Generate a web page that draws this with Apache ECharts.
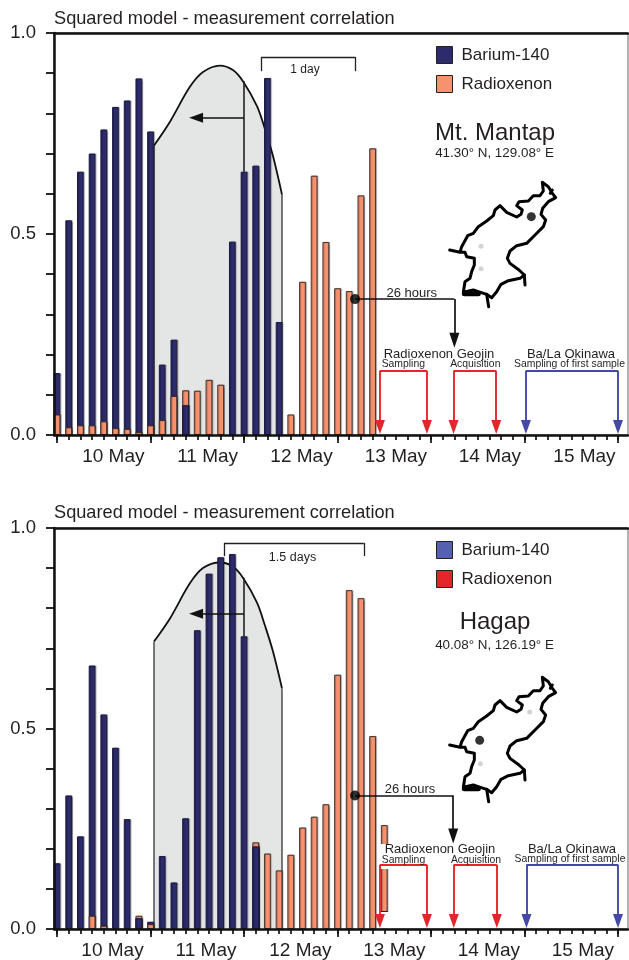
<!DOCTYPE html>
<html><head><meta charset="utf-8">
<style>html,body{margin:0;padding:0;background:#fff}#c{width:629px;height:960px}</style>
<script src="https://cdn.jsdelivr.net/npm/echarts@6/dist/echarts.min.js"></script>
</head><body><div id="c"></div>
<script>
// ---- data (x unit = 3-hour step from 10 May 00:00) ----
const dayLabels = ['10 May','11 May','12 May','13 May','14 May','15 May'];
const barium1 = [.154,.534,.655,.70,.76,.816,.832,.887,.755,.175,.237,.074,null,null,null,.481,.655,.67,.888,.281];
const xenon1  = [.051,.019,.024,.024,.034,.017,.015,.007,.024,.037,.097,.111,.11,.137,.125,null,null,null,null,null,.051,.381,.645,.48,.365,.358,.596,.713];
const barium2 = [.164,.333,.231,.657,.535,.452,.274,.027,.018,.182,.116,.276,.745,.886,.927,.935,.73,.206];
const xenon2  = [null,null,null,.033,.008,null,null,.033,.012,null,null,null,null,null,null,null,null,.216,.188,.146,.185,.253,.28,.311,.634,.845,.825,.481,.259];
const plumeX = [8.3,9.68,11.37,12.49,13.94,15.05,15.91,17.11,17.8,18.48,19.25];
const plumeY1 = [.72,.78,.866,.903,.919,.908,.88,.818,.76,.694,.598];
const plumeY2 = [.717,.775,.862,.9,.914,.904,.876,.814,.756,.692,.6];
const labelPos1 = [4.82,12.89,20.92,29.0,37.04,45.13];
const labelPos2 = [4.75,12.75,20.83,28.87,36.95,45.0];
const mapOutline = [[14,225],[45,232],[50,215],[68,182],[85,175],[100,155],[125,138],[145,122],[150,105],[165,92],[185,112],[215,126],[228,118],[232,105],[215,92],[222,80],[250,78],[265,62],[285,62],[295,48],[292,22],[310,35],[322,55],[332,68],[310,80],[293,100],[288,118],[302,135],[295,155],[270,180],[245,205],[215,212],[195,228],[187,250],[195,265],[222,285],[238,300],[225,310],[190,317],[168,328],[155,350],[140,368],[125,358],[100,350],[85,345],[55,352],[60,320],[75,310],[80,290],[88,270],[88,250],[65,245],[60,232],[45,232]];
const mapStubs = [[[238,300],[240,330]],[[125,358],[131,395]],[[58,356],[100,356]],[[322,45],[316,55]]];
const mapSite1 = [259,125], mapGray1 = [[108,214],[108,281]];
const mapSite2 = [104,211], mapGray2 = [[254,126],[106,281]];
const brackets1 = [17.45,25.55,.905,.94], brackets2 = [14.3,26.25,.93,.963];

const INK='#231f20', NAVY='#2d2b6a', ORANGE='#f7916e', RED='#e2262b', BLUE='#4549a6';
const FONT='"Liberation Sans",Arial,sans-serif';
const XMIN=-0.2567, XMAX=48.855;

const panels=[
 {top:33, site:'Mt. Mantap', coord:'41.30\u00b0 N, 129.08\u00b0 E', siteY:133, coordY:153, titleY:19, barium:barium1, xenon:xenon1, plume:plumeY1, labelPos:labelPos1,
  legend:['#2d2b6a','#f7916e'], legendTop:46, legendLeft:436, mapTop:175, mapSite:mapSite1, mapGray:mapGray1,
  bracket:brackets1, bracketText:['1 day',305,70,12], peakY:.88,
  arrowY:.789, dot:[25.5,.338], conX:34.0, conTip:.236, hoursText:[411.7,293],
  brackY:.16, tips:.02, redX:[27.63,31.65,33.93,37.58], blueX:[40.12,48.0],
  texts:[['Radioxenon Geojin',439,354.5,13],['Sampling',403.3,364.5,10.4],['Acquisition',475.3,364.5,10.4],['Ba/La Okinawa',571,354.5,13],['Sampling of first sample',569.5,364.5,10.4]]},
 {top:528, site:'Hagap', coord:'40.08\u00b0 N, 126.19\u00b0 E', siteY:622.5, coordY:645, titleY:513, barium:barium2, xenon:xenon2, plume:plumeY2, labelPos:labelPos2,
  legend:['#5560b0','#e2262b'], legendTop:541, legendLeft:436, mapTop:670, mapSite:mapSite2, mapGray:mapGray2,
  bracket:brackets2, bracketText:['1.5 days',292.5,558,12.5], peakY:.876,
  arrowY:.786, dot:[25.5,.333], conX:33.9, conTip:.232, hoursText:[410,789],
  brackY:.16, tips:.02, redX:[27.63,31.65,33.95,37.63], blueX:[40.17,48.0],
  texts:[['Radioxenon Geojin',440,849.5,13],['Sampling',403.5,860,10.4],['Acquisition',476,860,10.4],['Ba/La Okinawa',572,849.5,13],['Sampling of first sample',570,859.5,10.4]]}
];

const option={animation:false,textStyle:{fontFamily:FONT},grid:[],xAxis:[],yAxis:[],series:[],legend:[],graphic:{elements:[]}};
const gfx=option.graphic.elements;

function txt(s,x,y,size,align){
  gfx.push({type:'text',x,y,z:20,silent:true,style:{text:s,font:size+'px '+FONT,fill:INK,align:align||'center',verticalAlign:'middle'}});
}
function seg(x1,y1,x2,y2,color,width,arrow){
  return [{coord:[x1,y1],symbol:'none',lineStyle:{color,width,type:'solid',opacity:1}},
          {coord:[x2,y2],symbol:arrow?'triangle':'none',symbolSize:arrow||0}];
}

panels.forEach((p,k)=>{
  const g=k*2, xo=k*4, yo=k*2, mx=xo+3, my=yo+1;
  option.grid.push({left:54,top:p.top,width:574,height:402,show:true,backgroundColor:'#fff',borderColor:'#666',borderWidth:1});
  option.grid.push({left:445,top:p.mapTop,width:125,height:135,show:false});
  const hide={show:false};
  const ticks=[]; for(let i=0;i<=48;i++) ticks.push(i);
  const majors=[]; for(let i=0;i<=48;i+=8) majors.push(i);
  // minor ticks + bottom line
  option.xAxis.push({type:'value',gridIndex:g,min:XMIN,max:XMAX,position:'bottom',z:6,splitLine:hide,
    axisLine:{show:true,onZero:false,lineStyle:{color:'#111',width:2.5}},
    axisTick:{show:true,length:5,customValues:ticks,lineStyle:{color:'#111',width:1.7}},
    axisLabel:{show:false}});
  // major ticks + day labels
  option.xAxis.push({type:'value',gridIndex:g,min:XMIN,max:XMAX,position:'bottom',z:6,splitLine:hide,
    axisLine:{show:false},
    axisTick:{show:true,length:8,customValues:majors,lineStyle:{color:'#111',width:1.7}},
    axisLabel:{show:true,customValues:p.labelPos,margin:12,fontSize:19,fontFamily:FONT,color:INK,
      formatter:(v)=>dayLabels[p.labelPos.indexOf(v)]}});
  // top frame line
  option.xAxis.push({type:'value',gridIndex:g,min:XMIN,max:XMAX,position:'top',z:6,splitLine:hide,
    axisLine:{show:true,onZero:false,lineStyle:{color:'#111',width:2.5}},axisTick:hide,axisLabel:hide});
  // map x
  option.xAxis.push({type:'value',gridIndex:g+1,min:0,max:375,show:false});
  option.yAxis.push({type:'value',gridIndex:g,min:0,max:1,interval:.1,z:6,splitLine:hide,
    axisLine:{show:true,onZero:false,lineStyle:{color:'#111',width:2.5}},
    axisTick:{show:true,length:8,lineStyle:{color:'#111',width:1.8}},
    axisLabel:{show:true,customValues:[0,.5,1],margin:18,fontSize:18.5,fontFamily:FONT,color:INK,padding:[0,0,4,0],formatter:v=>v.toFixed(1)}});
  option.yAxis.push({type:'value',gridIndex:g+1,min:0,max:405,inverse:true,show:false});

  const ax={xAxisIndex:xo,yAxisIndex:yo};
  // plume
  option.series.push(Object.assign({name:'Plume',type:'line',z:1,smooth:.35,showSymbol:false,silent:true,
    data:plumeX.map((x,i)=>[x,p.plume[i]]),lineStyle:{color:'#111',width:1.8},areaStyle:{color:'#e4e6e5',opacity:1}},ax));
  option.series.push(Object.assign({name:'Plume edge L',type:'line',z:1,showSymbol:false,silent:true,
    data:[[plumeX[0],0],[plumeX[0],p.plume[0]]],lineStyle:{color:'#333',width:1.3}},ax));
  option.series.push(Object.assign({name:'Plume edge R',type:'line',z:1,showSymbol:false,silent:true,
    data:[[plumeX[10],p.plume[10]],[plumeX[10],0]],lineStyle:{color:'#333',width:1.3}},ax));
  // bars
  const barBase={type:'bar',barWidth:6.7,barGap:'-100%',z:3,silent:true};
  const pair=a=>a.map((v,i)=>[i,v]);
  const navyStyle={color:NAVY,borderColor:'#1c1b45',borderWidth:1,shadowColor:'rgba(0,0,0,.3)',shadowBlur:1,shadowOffsetX:1};
  const orStyle={color:ORANGE,borderColor:'#3a2a25',borderWidth:.9,shadowColor:'rgba(0,0,0,.3)',shadowBlur:1,shadowOffsetX:1};
  const front=p.barium.map((v,i)=>(v!=null&&p.xenon[i]!=null&&v<p.xenon[i])?v:null);
  option.series.push(Object.assign({},barBase,ax,{name:'Barium-140',data:pair(p.barium),itemStyle:navyStyle}));
  option.series.push(Object.assign({},barBase,ax,{name:'Radioxenon',data:pair(p.xenon),itemStyle:orStyle}));
  option.series.push(Object.assign({},barBase,ax,{name:'Barium-140 front',data:pair(front),itemStyle:navyStyle}));

  // annotations in data coordinates
  const [bx1,bx2,by0,by1]=p.bracket;
  const L=[];
  L.push(seg(bx1,by0,bx1,by1,'#222',1.3));
  L.push(seg(bx1,by1,bx2,by1,'#222',1.3));
  L.push(seg(bx2,by1,bx2,by0,'#222',1.3));
  L.push(seg(16,p.peakY,16,p.barium[16],'#222',1.6));
  L.push(seg(16,p.arrowY,11.9,p.arrowY,'#111',1.6,[10,14]));
  L.push(seg(p.dot[0],p.dot[1],p.conX,p.dot[1],'#111',1.7));
  L.push(seg(p.conX,p.dot[1],p.conX,p.conTip,'#111',1.7,[10,15]));
  const R=p.redX,B=p.blueX,y=p.brackY,t=p.tips;
  [[R[0],R[1],RED],[R[2],R[3],RED],[B[0],B[1],BLUE]].forEach(([a,c,col])=>{
    L.push(seg(a,y,c,y,col,1.9));
    L.push(seg(a,y,a,t,col,1.9,[10,14]));
    L.push(seg(c,y,c,t,col,1.9,[10,14]));
  });
  option.series.push({name:'Annotations',type:'scatter',xAxisIndex:xo,yAxisIndex:yo,z:8,silent:true,
    data:[p.dot],symbolSize:10,itemStyle:{color:'#000'},
    markLine:{silent:true,animation:false,z:7,label:{show:false},data:L}});
  // map
  const mapLine={type:'line',xAxisIndex:mx,yAxisIndex:my,showSymbol:false,silent:true,z:3,lineStyle:{color:'#000',width:3,join:'round',cap:'round'}};
  option.series.push(Object.assign({},mapLine,{name:'Map',data:mapOutline}));
  mapStubs.forEach((s,i)=>option.series.push(Object.assign({},mapLine,{name:'Map stub',data:s,lineStyle:{color:'#000',width:i===2?5:3,cap:'round'}})));
  option.series.push({name:'Map gray',type:'scatter',xAxisIndex:mx,yAxisIndex:my,silent:true,z:3,symbolSize:5,itemStyle:{color:'#c8c8c8'},data:p.mapGray});
  option.series.push({name:'Map site',type:'scatter',xAxisIndex:mx,yAxisIndex:my,silent:true,z:4,symbolSize:9,itemStyle:{color:'#000'},data:[p.mapSite]});
  // legend
  option.legend.push({left:p.legendLeft,top:p.legendTop,padding:0,orient:'vertical',selectedMode:false,icon:'rect',itemWidth:16,itemHeight:17,itemGap:11,
    textStyle:{fontSize:17,fontFamily:FONT,color:INK,padding:[0,0,0,4]},
    data:[{name:'Barium-140',itemStyle:{color:p.legend[0],borderColor:'#222',borderWidth:1}},{name:'Radioxenon',itemStyle:{color:p.legend[1],borderColor:'#222',borderWidth:1}}]});
  // text
  txt('Squared model - measurement correlation',54,p.titleY,18.2,'left');
  txt(p.site,495,p.siteY,24);
  txt(p.coord,494.5,p.coordY,13.4);
  txt(p.bracketText[0],p.bracketText[1],p.bracketText[2],p.bracketText[3]);
  txt('26 hours',p.hoursText[0],p.hoursText[1],13);
  p.texts.forEach(t=>txt(t[0],t[1],t[2],t[3]));
});
// white knockouts around the Geojin labels and arrow in the lower panel
gfx.push({type:'rect',z:5,silent:true,shape:{x:379,y:844,width:13,height:25},style:{fill:'#fff'}});
gfx.push({type:'rect',z:5,silent:true,shape:{x:379,y:912,width:13,height:16.5},style:{fill:'#fff'}});
gfx.push({type:'rect',z:5,silent:true,shape:{x:381,y:911,width:6.5,height:1},style:{fill:'#222'}});
const chart=echarts.init(document.getElementById('c'),null,{renderer:'canvas'});
chart.setOption(option);
</script></body></html>
